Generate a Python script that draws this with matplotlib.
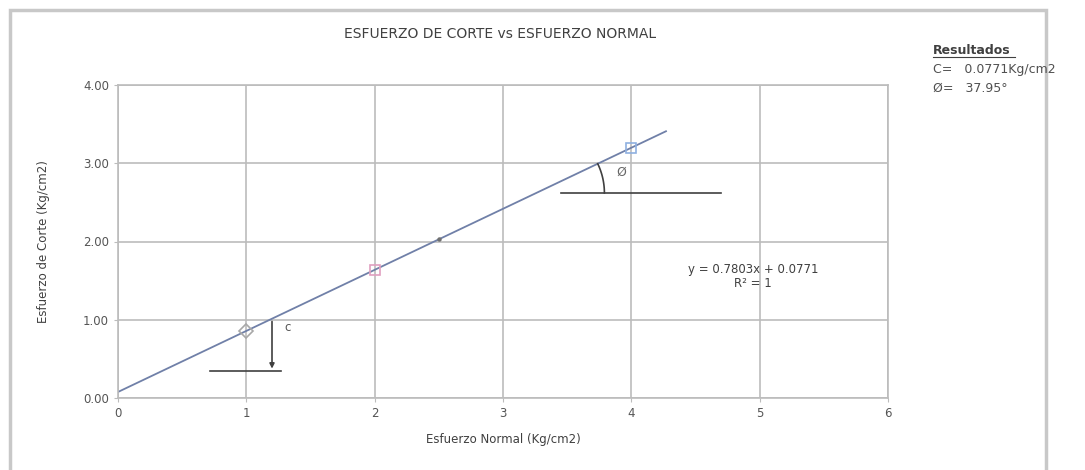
import matplotlib.pyplot as plt
from matplotlib.patches import Rectangle
import numpy as np

# data
normal = [1.0, 2.0, 2.5, 4.0]
corte = [0.86, 1.64, 2.03, 3.20]
markers = ['D', 's', '.', 's']
mcolors = ['#a8a8a8', '#e0a0c0', '#707070', '#8fb0e0']
slope = 0.7803
intercept = 0.0771
fit_x = [0.0, 4.27]
x_ticks = [0, 1, 2, 3, 4, 5, 6]
y_ticks = [0.0, 1.0, 2.0, 3.0, 4.0]

plt.rcParams['font.family'] = ['DejaVu Sans']
fig = plt.figure(figsize=(10.85, 4.70), dpi=100)

# outer frame
fig.patches.append(Rectangle((10/1085, -0.05), 1036/1085, 1.05 - 10/470,
                             transform=fig.transFigure, fill=False,
                             edgecolor='#c8c8c8', linewidth=2.5))

ax = fig.add_axes([118/1085, 1 - 398/470, 770/1085, 313/470])
ax.set_xlim(0, 6)
ax.set_ylim(0, 4)
ax.set_xticks(x_ticks)
ax.set_yticks(y_ticks)
ax.set_xticklabels([str(t) for t in x_ticks], fontsize=8.5, color='#555555')
ax.set_yticklabels(['%.2f' % t for t in y_ticks], fontsize=8.5, color='#555555')
ax.grid(True, color='#bcbcbc', linewidth=1.2)
ax.set_axisbelow(True)
for s in ax.spines.values():
    s.set_color('#bcbcbc')
    s.set_linewidth(1.2)
ax.tick_params(length=3, color='#bcbcbc')

fx = np.array(fit_x)
ax.plot(fx, slope * fx + intercept, color='#7080a8', linewidth=1.3)
for x, y, m, c in zip(normal, corte, markers, mcolors):
    ax.plot(x, y, marker=m, markersize=7 if m != '.' else 4,
            markerfacecolor='none' if m != '.' else c, markeredgecolor=c,
            linestyle='none', markeredgewidth=1.2)

# cohesion marker
ax.plot([0.72, 1.27], [0.34, 0.34], color='#404040', linewidth=1.2)
ax.annotate('', xy=(1.2, 0.34), xytext=(1.2, slope * 1.2 + intercept),
            arrowprops=dict(arrowstyle='-|>', color='#404040', lw=1.2,
                            mutation_scale=7))
ax.text(1.3, 0.85, 'c', fontsize=8.5, color='#555555')

# friction angle marker (arc drawn in pixel space, 128 px/unit x, 78.5 px/unit y)
ax.plot([3.45, 4.7], [2.62, 2.62], color='#404040', linewidth=1.2)
x0 = (2.62 - intercept) / slope
t = np.linspace(0, np.arctan(slope * 78.5 / 128), 20)
ax.plot(x0 + 68 * np.cos(t) / 128, 2.62 + 68 * np.sin(t) / 78.5,
        color='#404040', linewidth=1.2)
ax.text(3.92, 2.88, 'Ø', fontsize=9, color='#666666', ha='center', va='center')

ax.text(4.95, 1.55, 'y = 0.7803x + 0.0771\nR² = 1', fontsize=8.5,
        color='#404040', ha='center', va='center', linespacing=1.05)

ax.set_xlabel('Esfuerzo Normal (Kg/cm2)', fontsize=8.5, color='#404040',
              labelpad=9)
ax.set_ylabel('Esfuerzo de Corte (Kg/cm2)', fontsize=8.5, color='#404040',
              labelpad=24)
fig.text(500/1085, 1 - 34/470, 'ESFUERZO DE CORTE vs ESFUERZO NORMAL',
         fontsize=10, color='#404040', ha='center', va='center')

fig.text(933/1085, 1 - 50/470, 'Resultados', fontsize=9, fontweight='bold',
         color='#404040', va='center')
fig.add_artist(plt.Line2D([933/1085, 1015/1085], [1 - 57/470, 1 - 57/470],
                          color='#404040', linewidth=0.8))
fig.text(933/1085, 1 - 70/470, 'C=   0.0771Kg/cm2', fontsize=9,
         color='#505050', va='center')
fig.text(933/1085, 1 - 88/470, 'Ø=   37.95°', fontsize=9,
         color='#505050', va='center')

fig.savefig('out.png', dpi=100)
